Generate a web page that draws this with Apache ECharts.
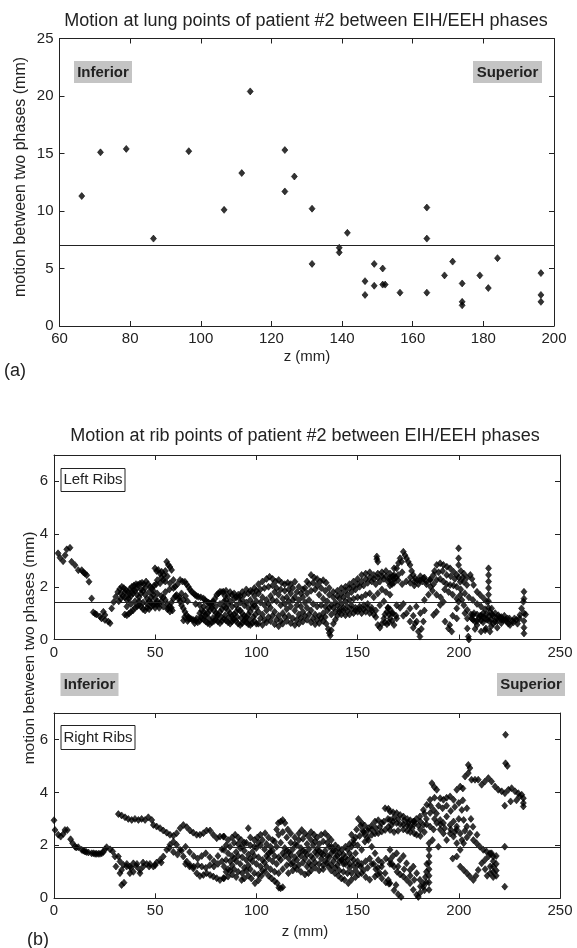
<!DOCTYPE html>
<html><head><meta charset="utf-8">
<script src="https://cdn.jsdelivr.net/npm/echarts@6/dist/echarts.min.js"></script>
<style>html,body{margin:0;padding:0;background:#fff}#c{width:577px;height:948px}</style>
</head><body><div id="c"></div>
<script>
// ---------- Panel (a): lung points ----------
const lungZ = [66.3,71.6,78.9,86.6,96.6,106.6,111.6,114,123.8,123.8,126.5,131.5,131.5,139.2,139.2,141.5,146.5,146.5,149.1,149.1,151.5,151.5,152.2,156.4,164,164,164,169,171.3,174,174,174,179,181.4,184,196.3,196.3,196.3];
const lungMotion = [11.3,15.1,15.4,7.6,15.2,10.1,13.3,20.4,15.3,11.7,13.0,10.2,5.4,6.8,6.4,8.1,3.9,2.7,5.4,3.5,5.0,3.6,3.6,2.9,10.3,7.6,2.9,4.4,5.6,3.7,2.1,1.8,4.4,3.3,5.9,4.6,2.7,2.1];
const lungMean = 7.0;
const lungXTicks = [60,200,20];
const lungYTicks = [0,25,5];

// ---------- Panel (b): rib points ----------
const ribXTicks = [0,250,50];
const ribYTicks = [0,7,2];
const leftMean = 1.40;
const rightMean = 1.92;

const leftRibsA = [[2,3.27],[3,3.1],[4.5,2.97],[5.5,3.2],[6.3,3.42],[7.9,3.48],[8.7,2.95],[10.4,2.82],[12,2.63],[13.7,2.63],[14.5,2.55],[15.3,2.5],[16.2,2.44],[17.3,2.19],[18.6,1.56],
[19.4,1.03],[20.3,0.98],[21,0.95],[22.7,0.87],[23.5,0.8],[24.4,1.05],[25.2,0.74],[25.2,0.93],[26.8,0.68],[27.7,0.62]];
const leftRibsB = [[28.5,1.18],[29.5,1.42],[30.5,1.62],[31.5,1.8],[32.5,1.92],[33.5,2.0],[34.5,1.95],[35.5,1.88],[36.5,1.8],[37.5,1.92],[38.5,2.0],[39.5,2.05],[40.5,2.1],[41.5,2.08],[42.5,2.12],[43.5,2.15],[44.5,2.1],[45.5,2.2],[46.5,2.1],[47.5,2.0],[48.5,1.95],[49.5,2.05],[50.5,2.1],
[32,1.45],[33,1.55],[34,1.65],[35,1.6],[36,1.5],[37,1.55],[38,1.65],[39,1.75],[40,1.85],[41,1.7],[42,1.6],[43,1.75],[44,1.85],[45,1.7],[46,1.55],[47,1.45],[48,1.6],[49,1.7],[50,1.55],[51,1.45],[52,1.35],[53,1.45],[54,1.6],[55,1.5],[56,1.35],[57,1.25],[58,1.4],[59,1.55],[60,1.65],
[35,0.95],[36,0.92],[37,0.98],[38,1.05],[39,1.1],[40,1.2],[41,1.25],[42,1.3],[43,1.25],[44,1.15],[45,1.1],[46,1.2],[47,1.15],[48,1.25],[49,1.3],[50,1.2],[51,1.35],
[49.9,2.7],[50.7,2.6],[51.5,2.64],[52.4,2.5],[53.2,2.57],[54.3,2.45],[55,2.6],[55.7,2.95],[56.5,2.83],[57.3,2.75],[58.1,2.64],[52.4,2.13],[54,2.26],[57.3,2.13],[59,2.26],[59.8,2.0],[51,2.25],[53,2.35],[56,2.4],[55,2.2],[56.5,1.18],[57.3,1.06],[58.5,1.1],
[33,1.75],[35,1.8],[37,1.7],[39,1.85],[41,1.95],[43,1.9],[45,1.95],[47,1.8],[49,1.85],[51,1.75],[53,1.65],[55,1.8],[57,1.9],[59,1.95],
[36,1.25],[38,1.35],[40,1.45],[42,1.45],[44,1.4],[46,1.35],[48,1.4],[50,1.35],[52,1.2],[54,1.25],[56,1.15],[58,1.2]];
const leftRibsC = [[61,2.1],[62.3,2.26],[63.5,2.2],[64.7,2.19],[65.5,2.1],[66.4,2.0],[67.2,1.9],[68,1.81],[69,1.75],[69.7,1.69],[70.5,1.65],[71.3,1.62],[72.5,1.6],[73.8,1.56],[74.6,1.5],[75.4,1.44],[76.3,1.4],[77.1,1.37],[78,1.4],[78.7,1.44],[79.5,1.55],[80.4,1.69],[81.2,1.75],[82,1.81],[83,1.8],[83.7,1.81],
[60.6,1.69],[61.5,1.55],[62.3,1.44],[63,1.3],[63.9,1.18],[64.7,1.05],[65.5,0.93],[66.4,0.85],[67.2,0.8],[68,0.77],[68.8,0.74],
[64,0.72],[66,0.7],[70,0.72],[71,0.65],[72,0.7],[73,0.8],[74,0.75],[75,0.68],[76,0.62],[77,0.58],[78,0.65],[79,0.7],[80,0.75],[81,0.68],[82,0.62],[83,0.7],[84,0.78],[85,0.72],[86,0.65],[87,0.6],[88,0.68],[89,0.75],[90,0.7],[91,0.6],[92,0.55],[93,0.62],[94,0.7],[95,0.65],[96,0.58],[97,0.55],[98,0.62],[99,0.7],[100,0.6],
[72,1.0],[73,1.1],[74,1.05],[75,0.95],[76,1.0],[77,1.1],[78,1.2],[79,1.1],[80,1.0],[81,0.95],[82,1.05],[83,1.15],[84,1.25],[85,1.2],[86,1.1],[87,1.0],[88,0.9],[89,0.95],[90,1.05],[91,1.15],[92,1.1],[93,1.0],[94,0.9],[95,0.85],[96,0.95],[97,1.05],[98,1.2],[99,1.3],[100,1.2],
[62,1.6],[63,1.75],[64,1.5],[65,1.65],[66,1.45],
[64.5,0.85],[66.5,0.78],[69.5,0.62],[70.5,0.8],[72.5,0.85],[74.5,0.9],[76.5,0.8],[78.5,0.82],[80.5,0.88],[82.5,0.85],[84.5,0.92],[86.5,0.85],[88.5,0.78],[90.5,0.85],[92.5,0.82],[94.5,0.78],[96.5,0.75],[98.5,0.85],[99.5,0.95],
[70,1.35],[72,1.3],[74,1.25],[76,1.2],[78,1.3],[80,1.25],[82,1.35],[84,1.45],[86,1.35],[88,1.25],[90,1.3],[92,1.4],[94,1.3],[96,1.2],[98,1.35],[100,1.45],
[84.5,1.65],[86,1.65],[88,1.7],[90,1.6],[92,1.65],[94,1.7],[96,1.75],[98,1.8],[100,1.85]];
const leftRibsD = [[85,1.85],[87,1.8],[89,1.75],[91,1.7],[93,1.8],[95,1.9],[97,1.85],[99,1.95],[101,2.1],[103,2.2],[105,2.3],[106.5,2.38],[108,2.3],[109.5,2.2],[111,2.26],[112.5,2.15],[114,2.1],[115.5,2.15],[117,2.1],[119,2.19],[121,2.0],[123,1.9],[125,2.2],[127,2.45],[128.5,2.35],[130,2.3],[131.5,2.2],[133,2.25],[134.5,2.15],[136,1.95],[138,1.8],[140,1.85],[142,1.95],[144,2.0],[146,2.1],[148,2.2],[150,2.3],[152,2.45],[154,2.5],[156,2.55],[158,2.45],[160,2.5],[162,2.55],[164,2.6],[166,2.5],[168,2.7],
[85,1.5],[87,1.45],[89,1.55],[91,1.6],[93,1.5],[95,1.4],[97,1.5],[99,1.65],[101,1.75],[103,1.6],[105,1.5],[107,1.65],[109,1.8],[111,1.7],[113,1.55],[115,1.6],[117,1.75],[119,1.6],[121,1.5],[123,1.6],[125,1.75],[127,1.85],[129,1.9],[131,1.7],[133,1.55],[135,1.45],[137,1.3],[139,1.4],[141,1.55],[143,1.6],[145,1.7],[147,1.8],[149,1.9],[151,2.0],[153,2.05],[155,2.15],[157,2.2],[159,2.1],[161,2.2],[163,2.3],[165,2.2],[167,2.1],[169,2.35],
[101,1.05],[103,0.95],[105,1.1],[107,1.2],[109,1.05],[111,0.9],[113,1.0],[115,1.15],[117,1.25],[119,1.1],[121,0.95],[123,1.05],[125,1.2],[127,1.1],[129,0.95],[131,0.9],[133,1.0],[135,1.1],[137,0.95],[139,1.05],[141,1.15],[143,1.2],[145,1.25],[147,1.3],[149,1.2],[151,1.25],[153,1.3],[155,1.35],[157,1.2],[159,1.1],[161,1.3],[163,1.45],[165,1.2],[167,1.0],[169,0.9],
[101,0.6],[103,0.55],[105,0.65],[107,0.7],[109,0.58],[111,0.5],[113,0.6],[115,0.7],[117,0.62],[119,0.55],[121,0.6],[123,0.68],[125,0.75],[127,0.65],[129,0.58],[131,0.62],[133,0.7],[134.5,0.6],[135.5,0.4],[136,0.25],[136.5,0.15],[137,0.35],[138,0.6],[140,0.9],[142,0.95],[144,0.92],[146,0.95],[148,1.0],[150,1.05],[152,1.0],[154,1.05],[156,1.0],[158,0.95],[160,0.55],[161,0.45],
[159.5,3.05],[159.5,3.15],[160,2.95],
[163.5,0.95],[164.5,1.05],[165.5,0.95],[166,0.8],[165.5,0.65],[164.5,0.58],[163.5,0.65],[163,0.8],[165,1.2],[167,0.7],[162,0.6],[168,0.55],
[102,1.9],[104,1.95],[106,2.0],[108,2.05],[110,1.95],[112,1.9],[114,1.85],[116,1.9],[118,1.95],[120,1.8],[122,1.75],[124,1.95],[126,2.1],[128,2.15],[130,2.05],[132,1.95],[134,1.85],[136,1.7],[138,1.6],[140,1.65],[142,1.75],[144,1.85],[146,1.95],[148,2.0],[150,2.1],[152,2.2],[154,2.3],[156,2.35],[158,2.3],[160,2.35],[162,2.4],[164,2.4],[166,2.35],[168,2.45],
[102,1.4],[104,1.3],[106,1.35],[108,1.5],[110,1.45],[112,1.3],[114,1.35],[116,1.45],[118,1.5],[120,1.3],[122,1.25],[124,1.4],[126,1.5],[128,1.35],[130,1.25],[132,1.3],[134,1.25],[136,1.2],[138,1.2],[140,1.3],[142,1.35],[144,1.45],[146,1.5],[148,1.55],[150,1.6],[152,1.6],[154,1.7],[156,1.75],[158,1.6],[160,1.75],[162,1.9],[164,1.8],[166,1.7],
[102,0.8],[104,0.75],[106,0.85],[108,0.9],[110,0.75],[112,0.7],[114,0.85],[116,0.9],[118,0.8],[120,0.75],[122,0.82],[124,0.9],[126,0.95],[128,0.8],[130,0.75],[132,0.82],[134,0.85],[139,0.75],[141,1.05],[143,1.1],[145,1.08],[147,1.15],[149,1.1],[151,1.15],[153,1.15],[155,1.2],[157,1.1],[159,0.85]];
const leftRibsE = [[166,2.26],[167.5,2.4],[169.3,2.7],[170.2,2.9],[171,3.08],[171.8,2.95],[172.6,3.33],[173.4,3.2],[174.2,3.08],[175,2.95],[175.9,2.83],[176.7,2.6],[177.5,2.45],[178.4,2.32],[179.5,2.25],[180.8,2.24],[182.5,2.32],[184,2.2],[185.8,2.26],[187.5,2.45],[189.1,2.83],[190.8,2.89],[192.4,2.83],[194.1,2.76],[195.7,2.7],[197.4,2.57],[199,2.45],[199.9,3.46],[199.9,3.08],[199.9,2.83],[201,2.6],[202.5,2.5],[204,2.35],
[166,2.05],[168,2.15],[170,2.25],[172,2.1],[174,2.2],[176,2.15],[178,2.05],[180,2.1],[182,2.2],[184,2.1],[186,2.0],[187.5,2.1],[189,2.26],[190.8,2.3],[192.4,2.2],[194,2.1],[195.7,2.07],[197.4,2.05],[199,2.0],[200.7,2.19],[202.4,2.19],[204,2.07],[205.7,2.45],[206.5,2.3],[207.3,2.07],[209,1.81],[210.6,1.69],[212.3,1.56],[213.9,1.43],[214.7,2.7],[214.7,2.45],[214.7,2.2],[214.7,1.95],[214.7,1.7],[214.7,1.45],[214.7,1.2],
[166,1.15],[167.5,1.0],[169.3,0.8],[169.3,1.3],[171,1.2],[172.6,0.9],[172.6,1.35],[174.2,1.0],[175.9,1.18],[175.9,0.68],[177.5,0.9],[177.5,0.45],[178.4,0.6],[179.2,0.68],[180,0.3],[180.8,0.11],[181.5,0.4],[182.5,0.68],[181,1.0],[183,1.1],[179,1.25],
[187.5,0.93],[189,1.05],[190.8,1.31],[192.4,1.43],[193.2,0.68],[194.9,0.42],[196.5,0.3],[195.5,0.55],[197,0.9],[199,0.8],[199,1.18],[199.9,1.43],[200.7,1.69],[201.5,1.5],[202.5,1.3],[203,1.0],
[204.2,1.12],[204.2,0.8],[204.2,0.42],[204.7,0.11],[205,0.0],[206.3,0.8],[207,0.93],[208,0.68],[209,0.55],[210,0.8],[211,0.9],[212,0.65],[213.4,0.42],[214,0.75],[215.4,1.05],[216.2,1.18],[217,0.9],[217.9,0.68],[218.7,0.8],[220,0.85],[221,0.75],[222,0.74],[223.6,0.68],[224.5,0.6],[225.3,0.55],[226.5,0.7],[227.5,0.8],[228.5,0.75],[230.2,0.93],[231,1.18],[231.9,1.43],[232.2,1.81],[232.2,1.55],[232.2,1.0],[232.2,0.7],[232.2,0.45],[232.2,0.23],
[206,0.95],[207.5,1.0],[209,0.95],[210.5,0.9],[212,1.0],[213.5,0.95],[215,0.9],[216.5,0.95],[218,1.0],[219.5,0.92],[221,0.85],[222.5,0.9],[224,0.8],[208,0.4],[211,0.3],[213,0.35],[216,0.5],[219,0.45],[215.4,0.3],
[183,1.5],[185,1.7],[187,1.85],[189,1.7],[191,1.6],[193,1.9],[195,1.8],[197,1.7],[199,1.55],[201,1.9],[203,1.75],[205,1.6],[207,1.5],[209,1.35],[211,1.25],[213,1.15],
[168,2.3],[170,2.45],[172,2.55],[176,2.35],[178,2.2],[181,2.4],[183,2.35],[186,2.3],[188,2.6],[190,2.55],[192,2.6],[194,2.45],[196,2.4],[198,2.3],[200,2.35],[202,2.35],
[207,0.75],[209,0.7],[211,0.72],[213,0.8],[215,0.7],[217,0.6],[219,0.7],[221,0.62],[223,0.75],[225,0.8],[227,0.65],[229,0.6],[230,0.8],[233,0.95],[216,0.75],[212,0.85]];

const rightRibsA = [[0,2.95],[0.5,2.58],[2.1,2.4],[3.3,2.33],[4.6,2.43],[5.4,2.58],[6.6,2.58],[8.2,2.23],[9.2,2.08],[10.4,1.95],[11,1.92],[12,1.93],[13.7,1.83],[14.5,1.8],[15.3,1.77],[16,1.75],[17,1.73],[18.6,1.7],[19.5,1.7],[20.3,1.68],[21,1.68],[21.9,1.68],[22.7,1.68],[23.6,1.7],[24.4,1.75],[25.2,1.85],[26,1.93],[27.7,1.85],[29,1.77],[30.1,1.58],[30.6,1.2]];
const rightRibsB = [[31.8,3.18],[33.4,3.13],[35.1,3.06],[36.7,3.0],[38.4,2.96],[40,3.0],[41.7,2.96],[43.3,3.0],[45,2.96],[46.6,3.06],[48.3,2.96],[49.1,2.77],[50.7,2.71],[52.4,2.65],[54,2.56],[55.7,2.48],[57.3,2.4],[59,2.36],[60.6,2.46],[62.3,2.65],[63.9,2.77],[65.6,2.69],[67.2,2.56],[68.8,2.48],[70.5,2.4],[72.1,2.4],[73.8,2.46],[75.4,2.56],[77.1,2.56],[78.7,2.4],[80.4,2.27],[82,2.33],[83.7,2.33],
[31.8,1.58],[32.6,1.39],[34.3,1.26],[35.9,1.2],[37.5,1.2],[39.2,1.32],[40.8,1.2],[42.5,1.07],[44.1,1.2],[45.8,1.3],[47.4,1.3],[49.1,1.2],[50.7,1.35],[52.4,1.45],[54,1.58],[55.7,1.83],[57.3,2.02],[59,2.14],[60.6,2.02],[62.3,1.83],[63.9,1.58],[65.6,1.39],[67.2,1.26],[68.8,1.13],[70.5,0.95],[72.1,0.84],[73.8,0.88],[75.4,0.95],[77.1,0.88],[78.7,0.82],[80.4,0.76],[82,0.69],[83.7,0.76],
[33.4,0.5],[34.6,0.59],[32.6,0.95],[33.4,1.07],[37.5,0.95],[39.2,1.0],[42.5,0.95],
[57,1.9],[59,1.75],[61,1.65],[63,1.8],[65,1.95],[67,1.75],[69,1.6],[71,1.5],[73,1.6],[75,1.7],[77,1.55],[79,1.4],[81,1.6],[83,1.85],
[65,1.3],[67,1.2],[69,1.2],[71,1.25],[73,1.2],[75,1.15],[77,1.25],[79,1.2],[81,1.3],[83,1.4],
[36,1.3],[38,1.15],[41,1.3],[44,1.35],[47,1.2],[50,1.25],[53,1.35]];
const rightRibsC = [[84,2.33],[86,2.2],[88,2.3],[89.5,2.4],[91,2.3],[92.5,2.2],[94,2.1],[96,2.65],[97,2.3],[99,2.2],[100.5,2.3],[102,2.4],[104.3,2.46],[106,2.3],[108,2.2],[110,2.6],[110.8,2.84],[112,2.9],[113,2.96],[114.1,2.84],[115.5,2.6],[117,2.45],[119,2.3],[121,2.45],[122.4,2.58],[124,2.45],[125.5,2.35],[127,2.5],[128.5,2.4],[130,2.3],[132,2.4],[133.9,2.46],[135.5,2.33],[137,2.2],[139,2.0],[140.5,1.9],[142.2,1.83],[144,1.95],[146,2.05],[148,2.2],[149.5,2.6],[150.4,3.0],[152,2.85],[153.5,2.75],[155.3,2.65],[157,2.75],[158.6,2.9],[160.2,2.95],[161.9,2.84],[163.6,3.4],[165.2,3.38],
[84,1.83],[86,1.7],[88,1.6],[90,1.75],[92,1.9],[94,1.8],[96,1.65],[98,1.75],[100,1.9],[102,2.0],[104,1.85],[106,1.7],[108,1.8],[110,1.95],[112,2.1],[114,1.9],[116,1.75],[118,1.85],[120,2.0],[122,1.9],[124,1.75],[126,1.85],[128,2.0],[130,1.85],[132,1.7],[134,1.8],[136,1.95],[138,1.8],[140,1.6],[142,1.45],[144,1.55],[146,1.7],[148,2.08],[150,2.0],[152,1.83],[153.6,2.14],[155,2.3],[157,2.4],[158.6,2.45],[160.2,2.46],[161.9,2.52],[163.6,2.58],[165.2,2.7],[166.8,2.77],
[84,1.2],[86,1.1],[88,1.25],[90,1.4],[92,1.3],[94,1.15],[96,1.25],[98,1.4],[100,1.3],[102,1.2],[104,1.35],[106,1.5],[108,1.4],[110,1.3],[112,1.45],[114,1.6],[116,1.5],[118,1.35],[120,1.45],[122,1.6],[124,1.5],[126,1.35],[128,1.5],[130,1.65],[132,1.5],[134,1.4],[136,1.55],[138,1.4],[140,1.25],[142.2,1.45],[144,1.3],[146,1.15],[148,1.25],[150,1.4],[151.5,1.2],[153,1.05],[155,1.15],[157,1.3],[159,1.1],[161,0.95],
[84,0.76],[86,0.82],[88,0.9],[90,0.8],[92.7,0.69],[94,0.75],[96,0.85],[97.5,0.75],[99.3,0.57],[101,0.68],[102.5,0.85],[104.3,1.0],[106,0.85],[107.5,0.75],[109,0.65],[110.3,0.57],[111.1,0.4],[112,0.38],[113,0.42],[115.8,0.95],[118,1.05],[120,1.1],[122,1.0],[124,0.9],[125.7,0.95],[127,1.05],[129,1.15],[131,1.05],[133,1.1],[135.5,1.2],[137,1.05],[138.8,0.95],[140.5,0.85],[142,0.75],[143.5,0.7],[145.4,0.57],[147,0.7],[149,0.8],[150.5,0.9],[152,0.95],[154,0.8],[156,0.7],[158.6,0.82],[160,0.9],[162,0.75],[164,0.6],[165.5,0.55],
[151.5,2.75],[152.5,2.55],[153.5,2.4],[155.3,2.2],[157,1.95],[158.6,1.7],[160.2,1.45],[161.9,1.2],[163.6,0.95],[165.2,0.69],[166,0.57],
[85,2.0],[87,1.95],[89,2.1],[91,2.05],[93,1.95],[95,2.1],[97,2.0],[99,1.95],[101,2.1],[103,2.2],[105,2.05],[107,1.95],[109,2.15],[111,2.4],[113,2.5],[115,2.3],[117,2.1],[119,2.05],[121,2.2],[123,2.25],[125,2.05],[127,2.2],[129,2.15],[131,2.05],[133,2.15],[135,2.1],[137,1.95],[139,1.8],[141,1.7],[143,1.65],[145,1.85],[147,1.95],
[85,1.45],[87,1.4],[89,1.5],[91,1.6],[93,1.55],[95,1.45],[97,1.5],[99,1.6],[101,1.55],[103,1.45],[105,1.6],[107,1.75],[109,1.6],[111,1.55],[113,1.7],[115,1.8],[117,1.65],[119,1.55],[121,1.7],[123,1.8],[125,1.65],[127,1.6],[129,1.75],[131,1.8],[133,1.65],[135,1.6],[137,1.7],[139,1.55],[141,1.4],[143,1.3],[145,1.45],[147,1.55],[149,1.7],
[85,1.0],[87,1.05],[89,1.1],[91,1.0],[93,0.95],[95,1.05],[97,1.1],[99,0.95],[101,0.9],[103,1.05],[105,1.2],[107,1.1],[109,1.0],[111,0.95],[113,1.1],[115,1.25],[117,1.3],[119,1.2],[121,1.25],[123,1.35],[125,1.2],[127,1.25],[129,1.35],[131,1.3],[133,1.25],[135,1.35],[137,1.25],[139,1.15],[141,1.05],[143,1.0],[145,0.95],[147,0.95],[149,1.05],
[147,2.4],[149,2.3],[151,2.35],[153,2.5],[155,2.55],[157,2.6],[159,2.65],[161,2.7],[163,2.9],[165,3.0],
[146,1.3],[148,1.45],[150,1.25],[152,1.3],[154,1.4],[156,1.5],[158,1.3],[160,1.15],[162,1.35],[164,1.5],[166,1.3]];
const rightRibsD = [[166,3.28],[167.5,3.25],[169.3,3.22],[171,3.15],[172.6,3.09],[174.5,3.0],[176,2.95],[177.5,2.9],[179,3.0],[180.8,3.09],[182.5,3.34],[184.2,3.53],[185.8,3.72],[186.7,4.35],[187.9,4.2],[189.1,4.1],[190.8,3.78],[192.4,3.72],[194,3.8],[195.7,3.85],[197.4,3.72],[199,4.1],[200.7,4.22],[202,4.15],[203.1,4.6],[204.7,5.04],[205.5,4.92],[204.7,4.73],[206.3,4.48],[208,4.48],[209.6,4.48],[211.3,4.29],[212.9,4.41],[214.6,4.54],[216.2,4.41],[217.9,4.22],[219.5,4.1],[221.2,4.04],[222.8,3.97],[224.5,4.1],[226.1,4.16],[227.8,4.04],[229.4,3.97],[231.1,3.91],[231.9,3.78],[231.9,3.6],[231.9,3.47],[230,3.85],[228.5,3.7],
[223.1,6.18],[223.1,5.1],[224,5.0],[222.7,3.5],[225.6,3.66],[222.7,1.95],[222.7,0.44],
[166,2.96],[167.5,2.9],[169.3,2.84],[171,2.8],[172.6,2.78],[174.5,2.75],[176,2.71],[178,2.8],[180,2.75],[182.5,2.77],[184,3.0],[185.8,3.22],[187.5,3.34],[189,3.2],[190.8,2.96],[192.4,2.84],[194,3.09],[195.7,2.77],[197.4,2.9],[199,2.71],[200,3.0],[201.5,3.34],[202.4,2.96],[204,2.71],[205.5,2.46],[207.2,2.2],[208.8,2.08],[210.4,1.95],[212.1,1.83],[213.7,1.77],[215.4,1.7],[217,1.58],
[166,2.58],[168,2.5],[170,2.55],[172.6,2.6],[174.5,2.55],[176,2.5],[178,2.45],[179.2,2.4],[181,2.35],[183,2.5],[185.8,2.71],[187.5,2.6],[189.1,2.84],[190.8,2.6],[192.4,2.45],[194,2.2],[195.7,2.45],[197.4,2.33],[199,2.6],[200.7,2.45],[201.5,2.2],[202.4,2.08],[204,2.3],
[166,1.83],[167.5,1.6],[169.3,1.7],[170.9,1.45],[172.6,1.6],[174.2,1.32],[175.9,1.07],[177.5,1.2],[179.2,0.95],[180.8,0.7],[182.5,0.44],
[166,1.45],[168,1.2],[169.5,1.0],[171,0.9],[172.6,0.82],[174.2,0.7],[175.9,0.57],[177.5,0.32],[179.2,0.13],[180,0.05],[180.8,0.2],[182.5,0.57],[183.5,0.8],[168,0.3],[170,0.15],[171.5,0.05],[169,0.5],[184,1.0],[184.2,1.3],
[185.3,2.08],[185.3,1.85],[185.3,1.6],[185.3,1.35],[185.3,1.1],[185.3,0.85],[185.3,0.6],[185.3,0.32],
[199,1.58],[200.7,1.2],[202.4,1.07],[204,0.95],[205.5,0.82],[207.2,0.69],[208.5,0.85],[209.6,1.07],[211.3,1.32],[212.9,1.45],[214.6,1.58],[216.2,1.7],[217,1.4],[217,1.2],[217,1.0],[217,0.8],[218.5,1.6],[218.5,1.3],[218.5,1.05],[218.5,0.85],[215.5,1.2],[215.5,0.95],[213,1.1],[214,0.85],[200.7,1.83],[199,2.08],[189.9,1.95],[197,1.5],[187,2.2],
[168,3.05],[170,3.0],[173,2.95],[175,2.85],[178,2.9],[181,2.9],[183,3.2],[186,3.5],[188,3.8],[190,3.5],[192,3.4],[194,3.5],[196,3.3],[198,3.45],[200,3.6],[202,3.7],[204,3.4],[206,3.0],[207,2.7],[209,2.4],
[177,2.65],[181,2.6],[184,2.8],[188,3.0],[191,2.8],[193,2.65],[196,2.6],[198,2.5],[203,2.55],
[167,1.3],[170,1.2],[173,1.1],[176,0.85],[178,0.7],[181,0.45],[183,0.3],[184,0.6]];

// ---------- chart ----------
const FONT = '"Liberation Sans", Arial, sans-serif';
const INK = '#222';
const chart = echarts.init(document.getElementById('c'), null, {renderer:'canvas'});

function xAx(grid, t, pos, labels, margin) {
  return {type:'value', gridIndex:grid, position:pos, min:t[0], max:t[1], interval:t[2],
    axisLine:{show:true, onZero:false, lineStyle:{color:INK, width:1}},
    axisTick:{show:true, inside:true, length:5, lineStyle:{color:INK}},
    axisLabel:{show:labels, color:INK, fontSize:15, fontFamily:FONT, margin:margin},
    splitLine:{show:false}};
}
function yAx(grid, t, pos, labels, hideMax) {
  return {type:'value', gridIndex:grid, position:pos, min:t[0], max:t[1], interval:t[2],
    axisLine:{show:true, onZero:false, lineStyle:{color:INK, width:1}},
    axisTick:{show:true, inside:true, length:5, lineStyle:{color:INK}},
    axisLabel:{show:labels, color:INK, fontSize:15, fontFamily:FONT, margin:6, showMaxLabel: hideMax ? false : null},
    splitLine:{show:false}};
}
function meanLine(v) {
  return {silent:true, symbol:'none', label:{show:false}, animation:false,
    lineStyle:{color:INK, type:'solid', width:1.2}, data:[{yAxis:v}]};
}
function txt(x, y, s, font, rot) {
  return {type:'text', x:x, y:y, rotation:rot||0, silent:true,
    style:{text:s, font:font, fill:INK, align:'center', verticalAlign:'middle', textAlign:'center', textVerticalAlign:'middle'}};
}
function grayTag(x, y, w, h, s) {
  return {type:'group', silent:true, children:[
    {type:'rect', shape:{x:x, y:y, width:w, height:h}, style:{fill:'#c4c4c4'}},
    txt(x + w/2, y + h/2 + 0.5, s, 'bold 15px ' + FONT)
  ]};
}
function boxTag(x, y, w, h, s) {
  return {type:'group', silent:true, children:[
    {type:'rect', shape:{x:x + 0.5, y:y + 0.5, width:w, height:h}, style:{fill:'#fff', stroke:INK, lineWidth:1}},
    txt(x + w/2 + 0.5, y + h/2 + 0.5, s, '15px ' + FONT)
  ]};
}

const lungData = lungZ.map((z, i) => [z, lungMotion[i]]);
const leftData = [].concat(leftRibsA, leftRibsB, leftRibsC, leftRibsD, leftRibsE);
const rightData = [].concat(rightRibsA, rightRibsB, rightRibsC, rightRibsD);

const dot = {type:'scatter', symbol:'diamond', silent:true, animation:false,
  itemStyle:{color:'#000', borderColor:'#000', borderWidth:0.7}};

chart.setOption({
  animation:false,
  backgroundColor:'#fff',
  grid:[
    {left:59.5, top:38.5, width:494.5, height:287.5},
    {left:54, top:455, width:506, height:184.5},
    {left:54, top:713, width:506, height:185.3}
  ],
  xAxis:[
    xAx(0, lungXTicks, 'bottom', true, 5), xAx(0, lungXTicks, 'top', false, 5),
    xAx(1, ribXTicks, 'bottom', true, 6), xAx(1, ribXTicks, 'top', false, 5),
    xAx(2, ribXTicks, 'bottom', true, 5), xAx(2, ribXTicks, 'top', false, 5)
  ],
  yAxis:[
    yAx(0, lungYTicks, 'left', true, false), yAx(0, lungYTicks, 'right', false, false),
    yAx(1, ribYTicks, 'left', true, true), yAx(1, ribYTicks, 'right', false, true),
    yAx(2, ribYTicks, 'left', true, true), yAx(2, ribYTicks, 'right', false, true)
  ],
  series:[
    Object.assign({}, dot, {xAxisIndex:0, yAxisIndex:0, symbolSize:[6,7], data:lungData, markLine:meanLine(lungMean)}),
    Object.assign({}, dot, {xAxisIndex:2, yAxisIndex:2, symbolSize:[6,7], data:leftData, markLine:meanLine(leftMean)}),
    Object.assign({}, dot, {xAxisIndex:4, yAxisIndex:4, symbolSize:[6,7], data:rightData, markLine:meanLine(rightMean)})
  ],
  graphic:[
    txt(306, 21, 'Motion at lung points of patient #2 between EIH/EEH phases', '18px ' + FONT),
    txt(21, 177, 'motion between two phases (mm)', '16px ' + FONT, Math.PI/2),
    txt(307, 357, 'z (mm)', '15px ' + FONT),
    txt(15, 371, '(a)', '18px ' + FONT),
    grayTag(74, 61, 58, 22, 'Inferior'),
    grayTag(473, 61, 69, 22, 'Superior'),
    txt(305, 436, 'Motion at rib points of patient #2 between EIH/EEH phases', '18px ' + FONT),
    boxTag(60.5, 468, 64, 23, 'Left Ribs'),
    grayTag(60.5, 673, 58, 23, 'Inferior'),
    grayTag(497, 673, 68, 23, 'Superior'),
    boxTag(60.5, 725, 74, 24, 'Right Ribs'),
    txt(30, 648, 'motion between two phases (mm)', '15.5px ' + FONT, Math.PI/2),
    txt(305, 932, 'z (mm)', '15px ' + FONT),
    txt(38, 940, '(b)', '18px ' + FONT)
  ]
});
</script>
</body></html>
